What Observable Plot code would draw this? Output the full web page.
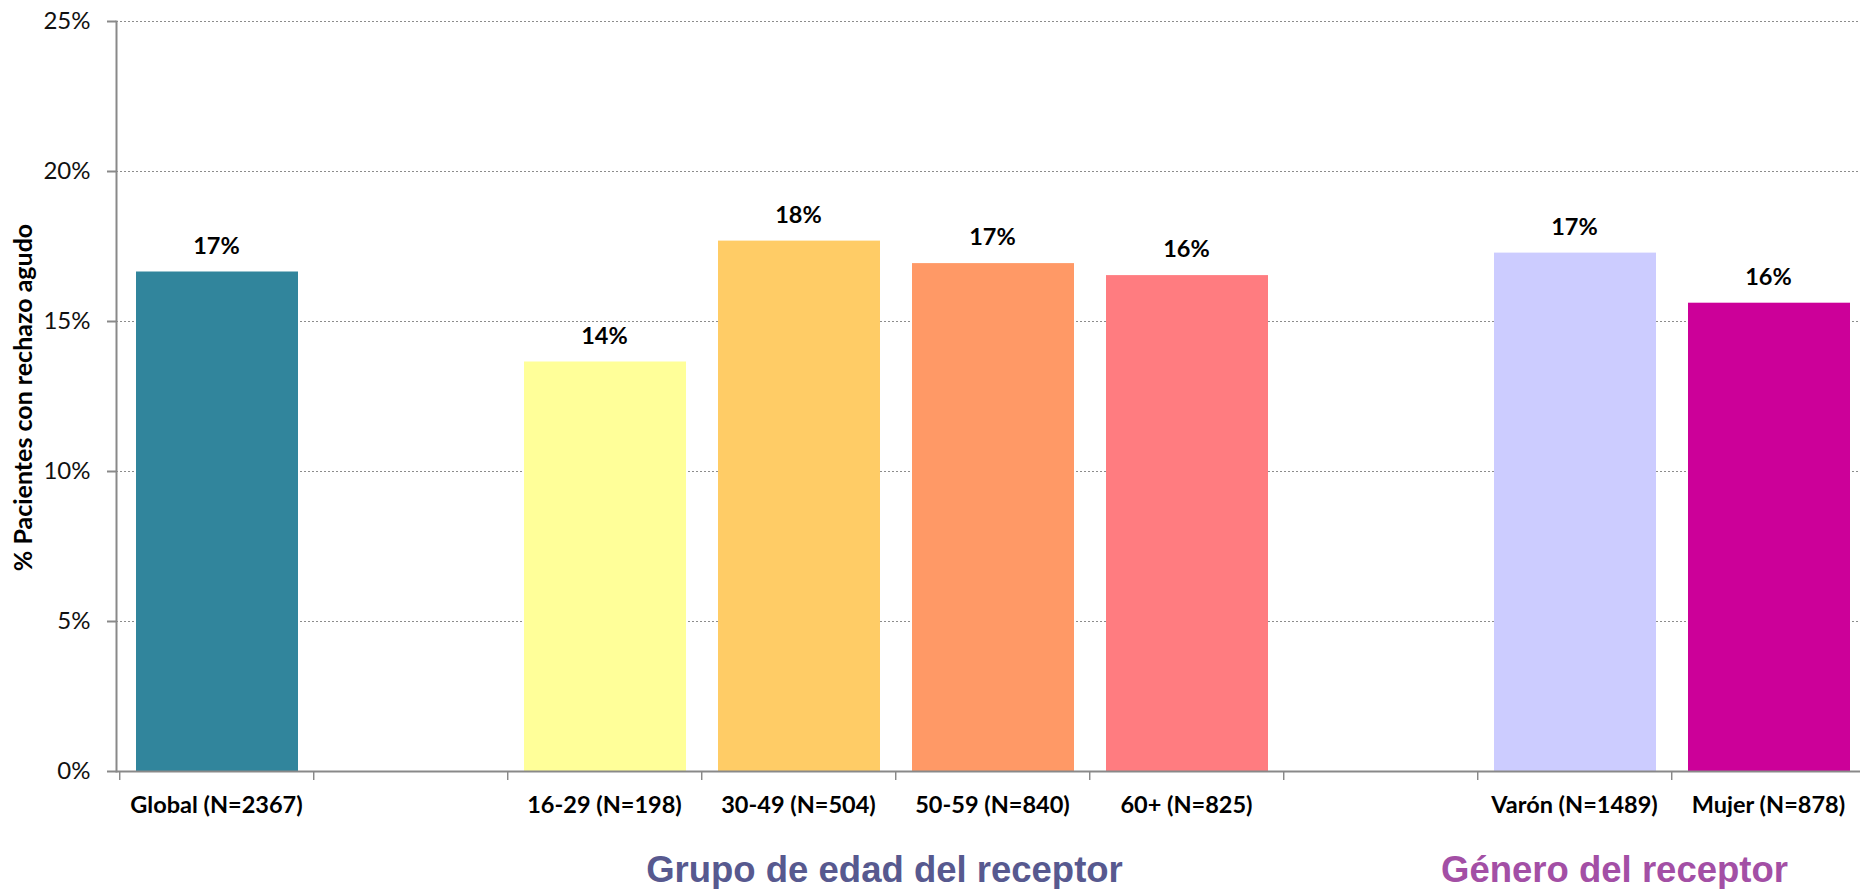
<!DOCTYPE html>
<html><head><meta charset="utf-8">
<script src="https://cdn.jsdelivr.net/npm/d3@7"></script>
<script src="https://cdn.jsdelivr.net/npm/@observablehq/plot@0.6"></script>
<style>body{margin:0;background:#fff;overflow:hidden}</style>
</head><body><div id="chart"></div>
<script>
const categories = ["Global (N=2367)", " ", "16-29 (N=198)", "30-49 (N=504)", "50-59 (N=840)", "60+ (N=825)", "  ", "Varón (N=1489)", "Mujer (N=878)"];
const barCategories = ["Global (N=2367)", "16-29 (N=198)", "30-49 (N=504)", "50-59 (N=840)", "60+ (N=825)", "Varón (N=1489)", "Mujer (N=878)"];
const values = [0.1665, 0.1365, 0.1768, 0.1693, 0.1653, 0.1728, 0.1561];
const valueLabels = ["17%", "14%", "18%", "17%", "16%", "17%", "16%"];
const colors = ["#31859c", "#ffff99", "#ffcc66", "#ff9966", "#ff7c80", "#ccccff", "#cc0099"];
const yTicks = [0, 0.05, 0.10, 0.15, 0.20, 0.25];
const groupLabels = ["Grupo de edad del receptor", "Género del receptor"];
const groupAnchors = ["30-49 (N=504)", "Varón (N=1489)"];
const groupColors = ["#57598f", "#a34fa5"];
const yLabel = "% Pacientes con rechazo agudo";

const bars = barCategories.map((c, i) => ({cat: c, value: values[i], label: valueLabels[i], color: colors[i]}));

const W = 1860, H = 889, mL = 116, mR = 0, mT = 21, mB = 118;
const xEnd = 1867;
const step = (xEnd - mL) / categories.length;
const axisGray = "#898989";

const chart = Plot.plot({
  width: W, height: H,
  marginLeft: mL, marginRight: mR, marginTop: mT, marginBottom: mB,
  style: {fontFamily: "Lato, 'Open Sans', sans-serif", background: "#fff", overflow: "visible"},
  x: {type: "band", domain: categories, padding: 0, range: [mL, xEnd]},
  y: {domain: [0, 0.25]},
  marks: [
    Plot.ruleY(yTicks.filter(d => d > 0), {stroke: "#8c8c8c", strokeWidth: 1, strokeDasharray: "2,2"}),
    Plot.barY(bars, {x: "cat", y: "value", fill: "color", insetLeft: 17, insetRight: 15}),
    Plot.text(bars, {x: "cat", y: "value", text: "label", dy: -26, fontWeight: "bold", fontSize: 23.5, fill: "#000"}),
    Plot.ruleY([0], {stroke: axisGray, strokeWidth: 2}),
    Plot.frame({anchor: "left", stroke: axisGray, strokeWidth: 2}),
    Plot.barY(categories, {x: d => d, y1: 0, y2: 0, insetRight: step - 2, insetBottom: -9, fill: axisGray}),
    Plot.axisY(yTicks, {tickFormat: d3.format(".0%"), tickSize: 9, tickPadding: 17, fontSize: 24, stroke: axisGray, strokeWidth: 2, fill: "#111", label: null}),
    Plot.axisX({tickSize: 0, tickPadding: 25, fontSize: 23.5, fontWeight: "bold", fill: "#000", label: null}),
    Plot.text([yLabel], {frameAnchor: "left", textAnchor: "middle", rotate: -90, dx: -93, dy: 1, fontSize: 25, fontWeight: "bold", fill: "#000"}),
    Plot.text([groupLabels[0]], {x: [groupAnchors[0]], frameAnchor: "bottom", dy: 110, dx: 86, fontSize: 36.5, fontWeight: "bold", fontFamily: "'Liberation Sans', Arial, sans-serif", fill: groupColors[0]}),
    Plot.text([groupLabels[1]], {x: [groupAnchors[1]], frameAnchor: "bottom", dy: 110, dx: 40, fontSize: 36.5, fontWeight: "bold", fontFamily: "'Liberation Sans', Arial, sans-serif", fill: groupColors[1]})
  ]
});
document.getElementById("chart").appendChild(chart);
</script>
</body></html>
